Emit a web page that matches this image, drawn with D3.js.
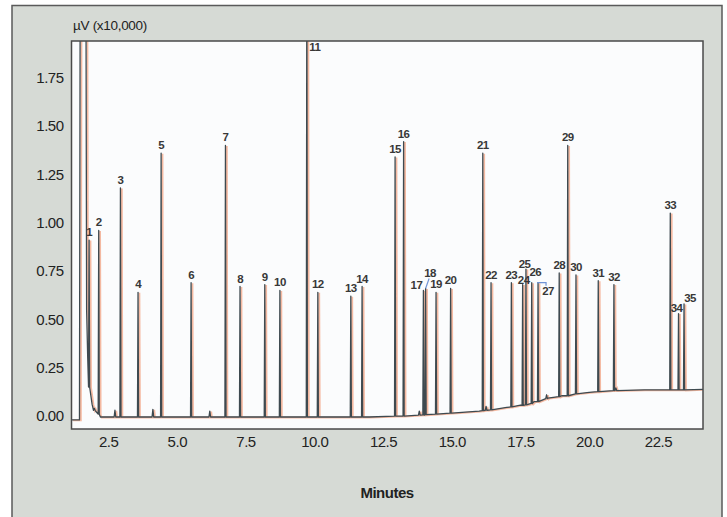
<!DOCTYPE html>
<html>
<head>
<meta charset="utf-8">
<script src="https://cdn.jsdelivr.net/npm/d3@7"></script>
<style>
  html, body { margin: 0; padding: 0; background: #ffffff; }
  svg { display: block; }
  .tick text, .axis-title, .peak-label {
    font-family: "Liberation Sans Narrow", "Liberation Sans", Arial, sans-serif;
  }
</style>
</head>
<body>
<svg id="chart" width="727" height="517"></svg>
<script>
// peak numbers, retention times (min) and apex heights (uV x10,000)
const peakLabels = ['1','2','3','4','5','6','7','8','9','10','11','12','13','14','15','16','17','18',
  '19','20','21','22','23','24','25','26','27','28','29','30','31','32','33','34','35'];
const peakTimes = [1.81, 2.16, 2.95, 3.59, 4.43, 5.52, 6.77, 7.30, 8.20, 8.75, 9.73, 10.13, 11.33, 11.74,
  12.94, 13.25, 13.97, 14.05, 14.43, 14.96, 16.13, 16.43, 17.17, 17.58, 17.70, 17.91, 18.14, 18.91,
  19.22, 19.52, 20.33, 20.90, 22.95, 23.25, 23.45];
const peakHeights = [0.91, 0.96, 1.18, 0.64, 1.36, 0.69, 1.40, 0.67, 0.68, 0.65, 2.40, 0.64, 0.62, 0.67,
  1.34, 1.42, 0.65, 0.66, 0.64, 0.66, 1.36, 0.69, 0.69, 0.68, 0.76, 0.69, 0.69, 0.74,
  1.40, 0.73, 0.70, 0.68, 1.05, 0.53, 0.58];
// baseline level under each peak
const peakBases = [0.15, 0.01, -0.005, -0.005, -0.005, -0.005, -0.005, -0.005, -0.005, -0.005, -0.005, -0.005, -0.005, -0.005,
  0.0, 0.0, 0.006, 0.007, 0.01, 0.015, 0.028, 0.032, 0.047, 0.055, 0.058, 0.065, 0.075, 0.1,
  0.105, 0.115, 0.126, 0.132, 0.135, 0.135, 0.135];

// small unlabelled bumps
const minorTimes = [2.0, 2.75, 4.13, 6.20, 13.82, 16.25, 18.45, 20.97];
const minorHeights = [0.04, 0.03, 0.035, 0.025, 0.025, 0.05, 0.11, 0.145];
const minorBases = [0.03, -0.005, -0.005, -0.005, 0.005, 0.03, 0.09, 0.132];

// solvent front (off scale) and its tail
const solventTimes = [1.17, 1.46, 1.49, 1.69, 1.72, 1.76, 1.84, 1.92, 2.05, 2.22];
const solventValues = [-0.02, -0.02, 2.6, 2.6, 0.55, 0.3, 0.14, 0.06, 0.025, -0.005];

// drifting baseline
const baseTimes = [2.4, 4, 6, 8, 10, 12, 13, 14, 15, 16, 17, 17.5, 18, 18.5, 19, 19.5, 20, 20.5, 21, 22, 23, 24.14];
const baseValues = [-0.005, -0.005, -0.005, -0.005, -0.005, -0.005, 0.0, 0.005, 0.015, 0.025, 0.045, 0.057, 0.075,
  0.093, 0.105, 0.115, 0.122, 0.128, 0.132, 0.135, 0.135, 0.138];

const xTicks = [2.5, 5.0, 7.5, 10.0, 12.5, 15.0, 17.5, 20.0, 22.5];
const yTicks = [0.00, 0.25, 0.50, 0.75, 1.00, 1.25, 1.50, 1.75];

// label tweaks where peaks crowd together (px)
const labelNudge = {
  '17': [-7, 3], '18': [4.5, -7], '24': [1, 3], '25': [-1.5, 3], '26': [3.5, -3],
  '27': [10, 16], '34': [-2, 2], '35': [6, 2]
};

const svg = d3.select('#chart');
const plot = { left: 71.5, top: 41, right: 703, bottom: 429 };

// outer panel
svg.append('rect')
  .attr('x', 12).attr('y', 5.5)
  .attr('width', 710).attr('height', 540)
  .attr('fill', '#d6dad5')
  .attr('stroke', '#5a5a5a')
  .attr('stroke-width', 1.5);

const x = d3.scaleLinear().domain([1.17, 24.14]).range([plot.left, plot.right]);
const y = d3.scaleLinear().domain([-0.067, 1.94]).range([plot.bottom, plot.top]);

svg.append('rect')
  .attr('x', plot.left).attr('y', plot.top)
  .attr('width', plot.right - plot.left).attr('height', plot.bottom - plot.top)
  .attr('fill', '#fbfcfd');

svg.append('clipPath').attr('id', 'plot-clip')
  .append('rect')
  .attr('x', plot.left).attr('y', plot.top)
  .attr('width', plot.right - plot.left).attr('height', plot.bottom - plot.top);

// build the trace from the read-off points
const halfWidth = 0.02;
let pts = [];
solventTimes.forEach((t, i) => pts.push([t, solventValues[i]]));
baseTimes.forEach((t, i) => pts.push([t, baseValues[i]]));
peakTimes.forEach((t, i) => {
  pts.push([t - halfWidth, peakBases[i]], [t, peakHeights[i]], [t + halfWidth, peakBases[i]]);
});
minorTimes.forEach((t, i) => {
  pts.push([t - 0.03, minorBases[i]], [t, minorHeights[i]], [t + 0.03, minorBases[i]]);
});
pts.sort((a, b) => a[0] - b[0]);

const line = d3.line()
  .x(d => x(d[0]))
  .y(d => y(d[1]));

const traces = svg.append('g').attr('clip-path', 'url(#plot-clip)');

// second (orange) run, slightly offset behind the dark one
traces.append('path')
  .datum(pts)
  .attr('transform', 'translate(1.4,0.5)')
  .attr('fill', 'none')
  .attr('stroke', '#f3a88a')
  .attr('stroke-opacity', 0.8)
  .attr('stroke-width', 1.8)
  .attr('d', line);

traces.append('path')
  .datum(pts)
  .attr('fill', 'none')
  .attr('stroke', '#3e4a50')
  .attr('stroke-width', 1.3)
  .attr('stroke-linejoin', 'round')
  .attr('d', line);

// plot frame
svg.append('rect')
  .attr('x', plot.left).attr('y', plot.top)
  .attr('width', plot.right - plot.left).attr('height', plot.bottom - plot.top)
  .attr('fill', 'none')
  .attr('stroke', '#4a4a4a')
  .attr('stroke-width', 1.5);

// axes
const yAxis = svg.append('g')
  .attr('transform', `translate(${plot.left},0)`)
  .call(d3.axisLeft(y).tickValues(yTicks).tickFormat(d3.format('.2f')).tickSize(0).tickPadding(8));
const xAxis = svg.append('g')
  .attr('transform', `translate(0,${plot.bottom})`)
  .call(d3.axisBottom(x).tickValues(xTicks).tickFormat(d3.format('.1f')).tickSize(0).tickPadding(7));
[yAxis, xAxis].forEach(a => {
  a.select('.domain').remove();
  a.selectAll('text')
    .attr('font-size', 15)
    .attr('letter-spacing', -0.5)
    .attr('fill', '#222');
});

svg.append('text')
  .attr('class', 'axis-title')
  .attr('x', 73).attr('y', 29.5)
  .attr('font-size', 13.5)
  .attr('letter-spacing', -0.3)
  .attr('fill', '#222')
  .text('µV (x10,000)');

svg.append('text')
  .attr('class', 'axis-title')
  .attr('x', 387).attr('y', 498)
  .attr('text-anchor', 'middle')
  .attr('font-size', 15)
  .attr('font-weight', 'bold')
  .attr('letter-spacing', -0.5)
  .attr('fill', '#222')
  .text('Minutes');

// peak labels
const labels = svg.append('g');
peakLabels.forEach((lab, i) => {
  const [dx, dy] = labelNudge[lab] || [0, 0];
  let px = x(peakTimes[i]) + dx;
  let py = y(peakHeights[i]) - 4 + dy;
  if (peakHeights[i] > y.domain()[1]) {
    // off-scale peak: label sits beside the line at the top
    px = x(peakTimes[i]) + 8;
    py = plot.top + 9.5;
  }
  labels.append('text')
    .attr('class', 'peak-label')
    .attr('x', px).attr('y', py)
    .attr('text-anchor', 'middle')
    .attr('font-size', 11.5)
    .attr('font-weight', 'bold')
    .attr('letter-spacing', -0.6)
    .attr('fill', '#383838')
    .text(lab);
});

// leader marks for crowded peaks
const i18 = peakLabels.indexOf('18');
labels.append('line')
  .attr('x1', x(peakTimes[i18]) + 3.5).attr('y1', y(peakHeights[i18]) - 10)
  .attr('x2', x(peakTimes[i18])).attr('y2', y(peakHeights[i18]))
  .attr('stroke', '#6f93d6').attr('stroke-width', 1.2);
const i27 = peakLabels.indexOf('27');
labels.append('path')
  .attr('d', `M${x(peakTimes[i27]) - 1},${y(peakHeights[i27])}h9v3`)
  .attr('fill', 'none')
  .attr('stroke', '#6f93d6').attr('stroke-width', 1.2);
</script>
</body>
</html>
